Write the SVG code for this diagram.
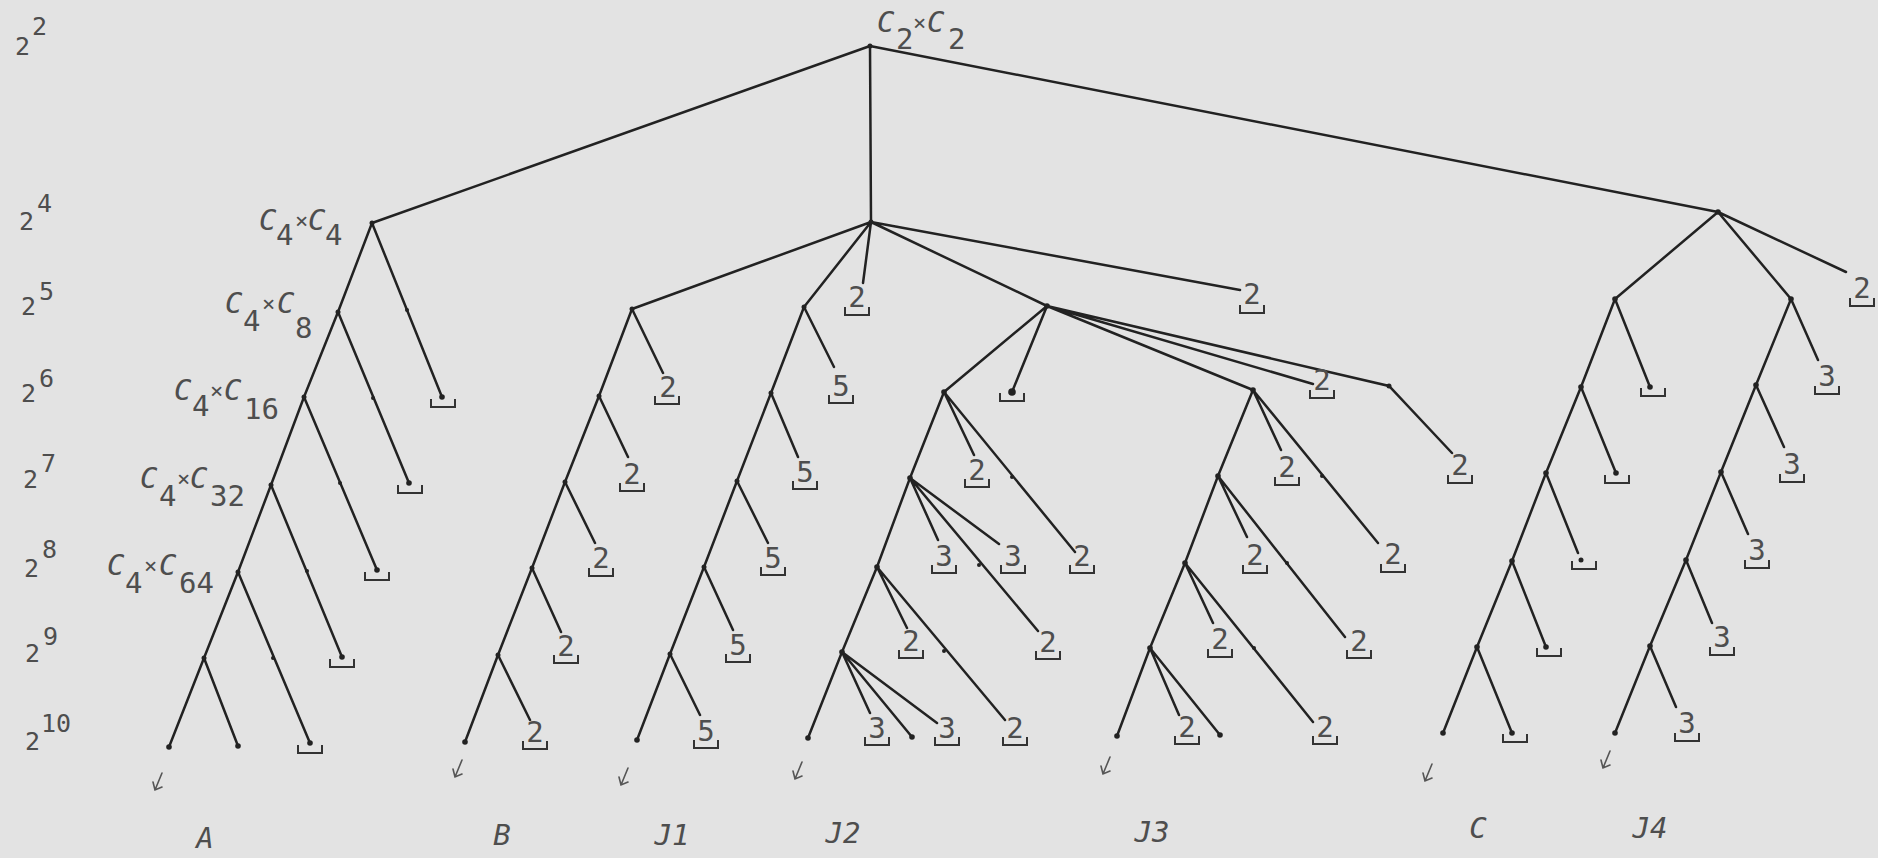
<svg xmlns="http://www.w3.org/2000/svg" xmlns:xlink="http://www.w3.org/1999/xlink" width="1878" height="858" viewBox="0 0 1878 858">
<style>
.e{stroke:#222;stroke-width:2.5;fill:none;stroke-linecap:round}
.d{fill:#222}
.b{stroke:#333;stroke-width:2;fill:none}
.t{font-family:"DejaVu Sans Mono","Liberation Mono",monospace;fill:#4e4e4e}
.lv{font-size:25px}
.lb{font-size:29px;text-anchor:middle}
.nm{font-size:29px}
.i{font-style:italic}
.x{font-size:22px}
.bt{font-size:29px;font-style:italic;text-anchor:middle}
.m{stroke:#555;stroke-width:1.6;fill:none;stroke-linecap:round}
</style>
<defs>
<path id="br" class="b" d="M-12,-8V0H12V-8"/>
<path id="mk" class="m" d="M10,0L3,17M1,9L3,17L10,14"/>
</defs>
<rect width="1878" height="858" fill="#e3e3e3"/>

<g id="levels" class="t lv">
<text x="15" y="55">2<tspan x="32" y="35">2</tspan></text>
<text x="19" y="230">2<tspan x="37" y="212">4</tspan></text>
<text x="21" y="315">2<tspan x="39" y="300">5</tspan></text>
<text x="21" y="402">2<tspan x="39" y="387">6</tspan></text>
<text x="23" y="488">2<tspan x="41" y="472">7</tspan></text>
<text x="24" y="577">2<tspan x="42" y="558">8</tspan></text>
<text x="25" y="662">2<tspan x="43" y="645">9</tspan></text>
<text x="25" y="750">2<tspan x="41" y="732">10</tspan></text>
</g>

<g id="connectors">
<path class="e" d="M870,46L372,223M870,46L871,222M870,46L1718,212"/>
<path class="e" d="M372,223L338,312L304,397L271,485L238,572L204,658L169,747M204,658L238,746"/>
<path class="e" d="M372,223L442,397M338,312L409,483M304,397L377,570M271,485L342,657M238,572L310,743"/>
<path class="e" d="M871,222L632,309M871,222L804,307M871,222L863,283M871,222L1047,306M871,222L1240,290"/>
<path class="e" d="M632,309L599,396L565,482L532,568L498,655L465,742"/>
<path class="e" d="M632,309L663,373M599,396L628,457M565,482L595,543M532,568L561,632M498,655L530,720"/>
<path class="e" d="M804,307L771,393L737,481L704,567L670,654L637,740"/>
<path class="e" d="M804,307L834,367M771,393L798,457M737,481L768,543M704,567L733,630M670,654L700,715"/>
<path class="e" d="M1047,306L944,392M1047,306L1012,392M1047,306L1253,390M1047,306L1313,384M1047,306L1389,386L1452,453"/>
<path class="e" d="M944,392L910,478L877,567L842,652L808,738"/>
<path class="e" d="M944,392L974,455M944,392L1075,552M910,478L938,540M910,478L1038,631M910,478L999,544M877,567L907,628M877,567L1005,720M842,652L870,713M842,652L912,737M842,652L937,723"/>
<path class="e" d="M1253,390L1218,476L1185,563L1150,648L1117,736"/>
<path class="e" d="M1253,390L1281,450M1253,390L1378,543M1218,476L1247,537M1218,476L1345,637M1185,563L1213,623M1185,563L1313,722M1150,648L1179,715M1150,648L1220,735"/>
<path class="e" d="M1718,212L1615,299M1718,212L1791,299M1718,212L1846,272"/>
<path class="e" d="M1615,299L1581,387L1546,473L1512,561L1477,647L1443,733"/>
<path class="e" d="M1615,299L1650,387M1581,387L1616,473M1546,473L1578,553M1512,561L1546,647M1477,647L1512,733"/>
<path class="e" d="M1791,299L1756,385L1721,472L1686,560L1650,646L1615,733"/>
<path class="e" d="M1791,299L1818,360M1756,385L1784,447M1721,472L1748,534M1686,560L1712,623M1650,646L1676,707"/>
</g>

<g id="root"><circle class="d" cx="870" cy="46" r="2.5"/>
<text class="t nm"><tspan class="i" x="877" y="32">C</tspan><tspan x="896" y="49">2</tspan><tspan class="x" x="913" y="30">×</tspan><tspan class="i" x="927" y="32">C</tspan><tspan x="948" y="49">2</tspan></text></g>

<g id="A4"><circle class="d" cx="372" cy="223" r="2.5"/>
<text class="t nm"><tspan class="i" x="259" y="230">C</tspan><tspan x="276" y="245">4</tspan><tspan class="x" x="295" y="228">×</tspan><tspan class="i" x="308" y="230">C</tspan><tspan x="325" y="245">4</tspan></text></g>
<g id="A5"><circle class="d" cx="338" cy="312" r="2.5"/>
<text class="t nm"><tspan class="i" x="225" y="313">C</tspan><tspan x="243" y="331">4</tspan><tspan class="x" x="262" y="311">×</tspan><tspan class="i" x="277" y="313">C</tspan><tspan x="295" y="338">8</tspan></text></g>
<g id="A6"><circle class="d" cx="304" cy="397" r="2.5"/>
<text class="t nm"><tspan class="i" x="174" y="400">C</tspan><tspan x="192" y="416">4</tspan><tspan class="x" x="210" y="398">×</tspan><tspan class="i" x="224" y="400">C</tspan><tspan x="244" y="419">16</tspan></text></g>
<g id="A7"><circle class="d" cx="271" cy="485" r="2.5"/>
<text class="t nm"><tspan class="i" x="140" y="488">C</tspan><tspan x="159" y="506">4</tspan><tspan class="x" x="177" y="486">×</tspan><tspan class="i" x="190" y="488">C</tspan><tspan x="210" y="506">32</tspan></text></g>
<g id="A8"><circle class="d" cx="238" cy="572" r="2.5"/>
<text class="t nm"><tspan class="i" x="107" y="575">C</tspan><tspan x="125" y="593">4</tspan><tspan class="x" x="144" y="573">×</tspan><tspan class="i" x="159" y="575">C</tspan><tspan x="179" y="593">64</tspan></text></g>
<g id="A9"><circle class="d" cx="204" cy="658" r="2.5"/></g>
<g id="A10a"><circle class="d" cx="169" cy="747" r="2.8"/><use href="#mk" x="152" y="773"/></g>
<g id="A10b"><circle class="d" cx="238" cy="746" r="2.8"/></g>
<g id="Am1"><circle class="d" cx="407" cy="310" r="2"/></g>
<g id="Am2"><circle class="d" cx="373" cy="398" r="2"/></g>
<g id="Am3"><circle class="d" cx="340" cy="483" r="2"/></g>
<g id="Am4"><circle class="d" cx="307" cy="571" r="2"/></g>
<g id="Am5"><circle class="d" cx="273" cy="658" r="2"/></g>
<g id="Ab1"><circle class="d" cx="442" cy="397" r="2.8"/><use href="#br" x="443" y="407"/></g>
<g id="Ab2"><circle class="d" cx="409" cy="483" r="2.8"/><use href="#br" x="410" y="493"/></g>
<g id="Ab3"><circle class="d" cx="377" cy="570" r="2.8"/><use href="#br" x="377" y="580"/></g>
<g id="Ab4"><circle class="d" cx="342" cy="657" r="2.8"/><use href="#br" x="342" y="667"/></g>
<g id="Ab5"><circle class="d" cx="310" cy="743" r="2.8"/><use href="#br" x="310" y="753"/></g>

<g id="M4"><circle class="d" cx="871" cy="222" r="2.5"/></g>
<g id="M4L1"><text class="t lb" x="857" y="307">2</text><use href="#br" x="857" y="315"/></g>
<g id="M4L2"><text class="t lb" x="1252" y="304">2</text><use href="#br" x="1252" y="313"/></g>

<g id="B5"><circle class="d" cx="632" cy="309" r="2.5"/></g>
<g id="B6"><circle class="d" cx="599" cy="396" r="2.5"/></g>
<g id="B7"><circle class="d" cx="565" cy="482" r="2.5"/></g>
<g id="B8"><circle class="d" cx="532" cy="568" r="2.5"/></g>
<g id="B9"><circle class="d" cx="498" cy="655" r="2.5"/></g>
<g id="B10"><circle class="d" cx="465" cy="742" r="2.8"/><use href="#mk" x="452" y="760"/></g>
<g id="BL1"><text class="t lb" x="668" y="397">2</text><use href="#br" x="667" y="404"/></g>
<g id="BL2"><text class="t lb" x="632" y="484">2</text><use href="#br" x="632" y="491"/></g>
<g id="BL3"><text class="t lb" x="601" y="568">2</text><use href="#br" x="601" y="576"/></g>
<g id="BL4"><text class="t lb" x="566" y="656">2</text><use href="#br" x="566" y="663"/></g>
<g id="BL5"><text class="t lb" x="535" y="742">2</text><use href="#br" x="535" y="749"/></g>

<g id="J1_5"><circle class="d" cx="804" cy="307" r="2.5"/></g>
<g id="J1_6"><circle class="d" cx="771" cy="393" r="2.5"/></g>
<g id="J1_7"><circle class="d" cx="737" cy="481" r="2.5"/></g>
<g id="J1_8"><circle class="d" cx="704" cy="567" r="2.5"/></g>
<g id="J1_9"><circle class="d" cx="670" cy="654" r="2.5"/></g>
<g id="J1_10"><circle class="d" cx="637" cy="740" r="2.8"/><use href="#mk" x="618" y="768"/></g>
<g id="J1L1"><text class="t lb" x="841" y="396">5</text><use href="#br" x="841" y="403"/></g>
<g id="J1L2"><text class="t lb" x="805" y="482">5</text><use href="#br" x="805" y="489"/></g>
<g id="J1L3"><text class="t lb" x="773" y="568">5</text><use href="#br" x="773" y="575"/></g>
<g id="J1L4"><text class="t lb" x="738" y="655">5</text><use href="#br" x="738" y="662"/></g>
<g id="J1L5"><text class="t lb" x="706" y="741">5</text><use href="#br" x="706" y="748"/></g>

<g id="P"><circle class="d" cx="1047" cy="306" r="2.8"/></g>
<g id="PL1"><circle class="d" cx="1012" cy="392" r="3.8"/><use href="#br" x="1012" y="401"/></g>
<g id="PL2"><text class="t lb" x="1322" y="390">2</text><use href="#br" x="1322" y="398"/></g>
<g id="Q"><circle class="d" cx="1389" cy="386" r="2.5"/></g>
<g id="QL"><text class="t lb" x="1460" y="475">2</text><use href="#br" x="1460" y="483"/></g>

<g id="J2_6"><circle class="d" cx="944" cy="392" r="2.8"/></g>
<g id="J2_7"><circle class="d" cx="910" cy="478" r="2.8"/></g>
<g id="J2_8"><circle class="d" cx="877" cy="567" r="2.8"/></g>
<g id="J2_9"><circle class="d" cx="842" cy="652" r="2.8"/></g>
<g id="J2_10"><circle class="d" cx="808" cy="738" r="2.8"/><use href="#mk" x="792" y="762"/></g>
<g id="J2m1"><circle class="d" cx="1012" cy="477" r="2"/></g>
<g id="J2m2"><circle class="d" cx="979" cy="565" r="2"/></g>
<g id="J2m3"><circle class="d" cx="944" cy="651" r="2"/></g>
<g id="J2L1"><text class="t lb" x="977" y="480">2</text><use href="#br" x="977" y="487"/></g>
<g id="J2L2"><text class="t lb" x="1082" y="566">2</text><use href="#br" x="1082" y="573"/></g>
<g id="J2L3"><text class="t lb" x="944" y="566">3</text><use href="#br" x="944" y="573"/></g>
<g id="J2L4"><text class="t lb" x="1013" y="566">3</text><use href="#br" x="1013" y="573"/></g>
<g id="J2L5"><text class="t lb" x="1048" y="652">2</text><use href="#br" x="1048" y="659"/></g>
<g id="J2L6"><text class="t lb" x="911" y="651">2</text><use href="#br" x="911" y="658"/></g>
<g id="J2L7"><text class="t lb" x="1015" y="738">2</text><use href="#br" x="1015" y="745"/></g>
<g id="J2L8"><text class="t lb" x="877" y="738">3</text><use href="#br" x="877" y="745"/></g>
<g id="J2L9"><circle class="d" cx="912" cy="737" r="2.8"/></g>
<g id="J2L10"><text class="t lb" x="947" y="738">3</text><use href="#br" x="947" y="745"/></g>

<g id="J3_6"><circle class="d" cx="1253" cy="390" r="2.8"/></g>
<g id="J3_7"><circle class="d" cx="1218" cy="476" r="2.8"/></g>
<g id="J3_8"><circle class="d" cx="1185" cy="563" r="2.8"/></g>
<g id="J3_9"><circle class="d" cx="1150" cy="648" r="2.8"/></g>
<g id="J3_10"><circle class="d" cx="1117" cy="736" r="2.8"/><use href="#mk" x="1100" y="757"/></g>
<g id="J3m1"><circle class="d" cx="1322" cy="476" r="2"/></g>
<g id="J3m2"><circle class="d" cx="1287" cy="563" r="2"/></g>
<g id="J3m3"><circle class="d" cx="1254" cy="648" r="2"/></g>
<g id="J3L1"><text class="t lb" x="1287" y="477">2</text><use href="#br" x="1287" y="485"/></g>
<g id="J3L2"><text class="t lb" x="1393" y="564">2</text><use href="#br" x="1393" y="572"/></g>
<g id="J3L3"><text class="t lb" x="1255" y="565">2</text><use href="#br" x="1255" y="573"/></g>
<g id="J3L4"><text class="t lb" x="1359" y="651">2</text><use href="#br" x="1359" y="658"/></g>
<g id="J3L5"><text class="t lb" x="1220" y="649">2</text><use href="#br" x="1220" y="657"/></g>
<g id="J3L6"><text class="t lb" x="1325" y="737">2</text><use href="#br" x="1325" y="744"/></g>
<g id="J3L7"><text class="t lb" x="1187" y="737">2</text><use href="#br" x="1187" y="744"/></g>
<g id="J3L8"><circle class="d" cx="1220" cy="735" r="2.8"/></g>

<g id="R4"><circle class="d" cx="1718" cy="212" r="2.8"/></g>
<g id="R4L"><text class="t lb" x="1862" y="298">2</text><use href="#br" x="1862" y="306"/></g>

<g id="C5"><circle class="d" cx="1615" cy="299" r="2.8"/></g>
<g id="C6"><circle class="d" cx="1581" cy="387" r="2.8"/></g>
<g id="C7"><circle class="d" cx="1546" cy="473" r="2.8"/></g>
<g id="C8"><circle class="d" cx="1512" cy="561" r="2.8"/></g>
<g id="C9"><circle class="d" cx="1477" cy="647" r="2.8"/></g>
<g id="C10"><circle class="d" cx="1443" cy="733" r="2.8"/><use href="#mk" x="1422" y="764"/></g>
<g id="CL1"><circle class="d" cx="1650" cy="387" r="2.8"/><use href="#br" x="1653" y="396"/></g>
<g id="CL2"><circle class="d" cx="1616" cy="473" r="2.8"/><use href="#br" x="1617" y="483"/></g>
<g id="CL3"><circle class="d" cx="1581" cy="560" r="2.5"/><use href="#br" x="1584" y="569"/></g>
<g id="CL4"><circle class="d" cx="1546" cy="647" r="2.8"/><use href="#br" x="1549" y="656"/></g>
<g id="CL5"><circle class="d" cx="1512" cy="733" r="2.8"/><use href="#br" x="1515" y="742"/></g>

<g id="J4_5"><circle class="d" cx="1791" cy="299" r="2.8"/></g>
<g id="J4_6"><circle class="d" cx="1756" cy="385" r="2.8"/></g>
<g id="J4_7"><circle class="d" cx="1721" cy="472" r="2.8"/></g>
<g id="J4_8"><circle class="d" cx="1686" cy="560" r="2.8"/></g>
<g id="J4_9"><circle class="d" cx="1650" cy="646" r="2.8"/></g>
<g id="J4_10"><circle class="d" cx="1615" cy="733" r="2.8"/><use href="#mk" x="1600" y="751"/></g>
<g id="J4L1"><text class="t lb" x="1827" y="386">3</text><use href="#br" x="1827" y="394"/></g>
<g id="J4L2"><text class="t lb" x="1792" y="474">3</text><use href="#br" x="1792" y="482"/></g>
<g id="J4L3"><text class="t lb" x="1757" y="560">3</text><use href="#br" x="1757" y="568"/></g>
<g id="J4L4"><text class="t lb" x="1722" y="647">3</text><use href="#br" x="1722" y="655"/></g>
<g id="J4L5"><text class="t lb" x="1687" y="733">3</text><use href="#br" x="1687" y="741"/></g>

<g id="captions" class="t bt">
<text x="205" y="848">A</text>
<text x="502" y="845">B</text>
<text x="672" y="845">J1</text>
<text x="843" y="843">J2</text>
<text x="1152" y="842">J3</text>
<text x="1478" y="838">C</text>
<text x="1650" y="838">J4</text>
</g>
</svg>
